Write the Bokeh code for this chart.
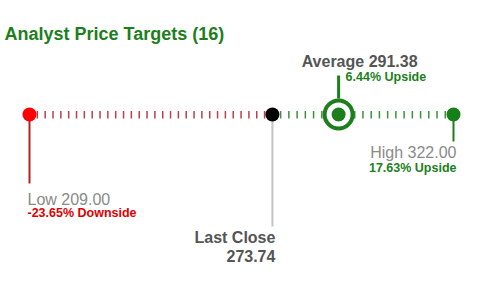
import numpy as np
from bokeh.plotting import figure
from bokeh.models import Range1d
from bokeh.core.properties import value
from bokeh.embed import file_html
from bokeh.resources import INLINE

# ---- data ----
title_text = "Analyst Price Targets"
analyst_count = 16
low_price = 209.00
last_close = 273.74
avg_price = 291.38
high_price = 322.00
low_pct = -23.65
avg_pct = 6.44
high_pct = 17.63
red_tick_count = 31
green_tick_count = 22

FONT = value("Liberation Sans")
GREEN = "#1c7f1c"
RED = "#e00000"
DARK_RED = "#b22222"

W, H = 486, 290
px_per_unit = (453 - 29) / (high_price - low_price)
x0 = low_price - 29 / px_per_unit
x1 = x0 + W / px_per_unit

p = figure(width=W, height=H, x_range=Range1d(x0, x1), y_range=Range1d(H, 0),
           output_backend="svg", toolbar_location=None, min_border=0)
p.axis.visible = False
p.grid.visible = False
p.outline_line_color = None
p.background_fill_color = "white"
p.border_fill_color = "white"

axis_y = 114
dy = -6  # text baseline correction

# ticks
red_ticks = np.linspace(low_price, last_close, red_tick_count + 1)[1:-1]
green_ticks = np.linspace(last_close, high_price, green_tick_count + 1)[1:-1]
p.segment(x0=red_ticks, x1=red_ticks, y0=axis_y - 3.5, y1=axis_y + 4,
          line_color="#b8404c", line_width=1.5)
p.segment(x0=green_ticks, x1=green_ticks, y0=axis_y - 3.5, y1=axis_y + 4,
          line_color="#3d913d", line_width=1.5)

# vertical leader lines
p.segment(x0=[low_price], x1=[low_price], y0=[axis_y], y1=[183],
          line_color=DARK_RED, line_width=2)
p.segment(x0=[last_close], x1=[last_close], y0=[axis_y], y1=[226],
          line_color="#c4c4c4", line_width=2)
p.segment(x0=[high_price], x1=[high_price], y0=[axis_y], y1=[141],
          line_color=GREEN, line_width=2)
p.segment(x0=[avg_price], x1=[avg_price], y0=[75], y1=[98],
          line_color=GREEN, line_width=3)

# markers
p.scatter(x=[low_price], y=[axis_y], size=14, fill_color="#ff0000", line_color=None)
p.scatter(x=[last_close], y=[axis_y], size=14, fill_color="black", line_color=None)
p.scatter(x=[high_price], y=[axis_y], size=14, fill_color="#168016", line_color=None)
p.scatter(x=[avg_price], y=[axis_y], size=28, fill_color="white",
          line_color=GREEN, line_width=4)
p.scatter(x=[avg_price], y=[axis_y], size=14, fill_color=GREEN, line_color=None)

# texts
p.text(x=[x0], y=[39 + dy], text=[f"{title_text} ({analyst_count})"], x_offset=4,
       text_font=FONT, text_font_size="18px", text_font_style="bold",
       text_color=GREEN, text_baseline="alphabetic", text_align="left")

p.text(x=[low_price], y=[205 + dy], text=[f"Low {low_price:.2f}"], x_offset=-2,
       text_font=FONT, text_font_size="16px", text_color="#8a8a8a",
       text_baseline="alphabetic", text_align="left")
p.text(x=[low_price], y=[218 + dy], text=[f"{low_pct:.2f}% Downside"], x_offset=-2,
       text_font=FONT, text_font_size="12.5px", text_font_style="bold",
       text_color=RED, text_baseline="alphabetic", text_align="left")

p.text(x=[last_close], y=[243 + dy], text=["Last Close"], x_offset=3,
       text_font=FONT, text_font_size="16px", text_font_style="bold",
       text_color="#555555", text_baseline="alphabetic", text_align="right")
p.text(x=[last_close], y=[261.5 + dy], text=[f"{last_close:.2f}"], x_offset=3,
       text_font=FONT, text_font_size="16px", text_font_style="bold",
       text_color="#555555", text_baseline="alphabetic", text_align="right")

p.text(x=[avg_price], y=[67 + dy], text=[f"Average {avg_price:.2f}"], x_offset=21,
       text_font=FONT, text_font_size="16px", text_font_style="bold",
       text_color="#555555", text_baseline="alphabetic", text_align="center")
p.text(x=[avg_price], y=[82.5 + dy], text=[f"{avg_pct:.2f}% Upside"], x_offset=7,
       text_font=FONT, text_font_size="12.5px", text_font_style="bold",
       text_color=GREEN, text_baseline="alphabetic", text_align="left")

p.text(x=[high_price], y=[157.5 + dy], text=[f"High {high_price:.2f}"], x_offset=3,
       text_font=FONT, text_font_size="16px", text_color="#8a8a8a",
       text_baseline="alphabetic", text_align="right")
p.text(x=[high_price], y=[173 + dy], text=[f"{high_pct:.2f}% Upside"], x_offset=3,
       text_font=FONT, text_font_size="12.5px", text_font_style="bold",
       text_color=GREEN, text_baseline="alphabetic", text_align="right")

open("out.html", "w").write(file_html(p, INLINE))
